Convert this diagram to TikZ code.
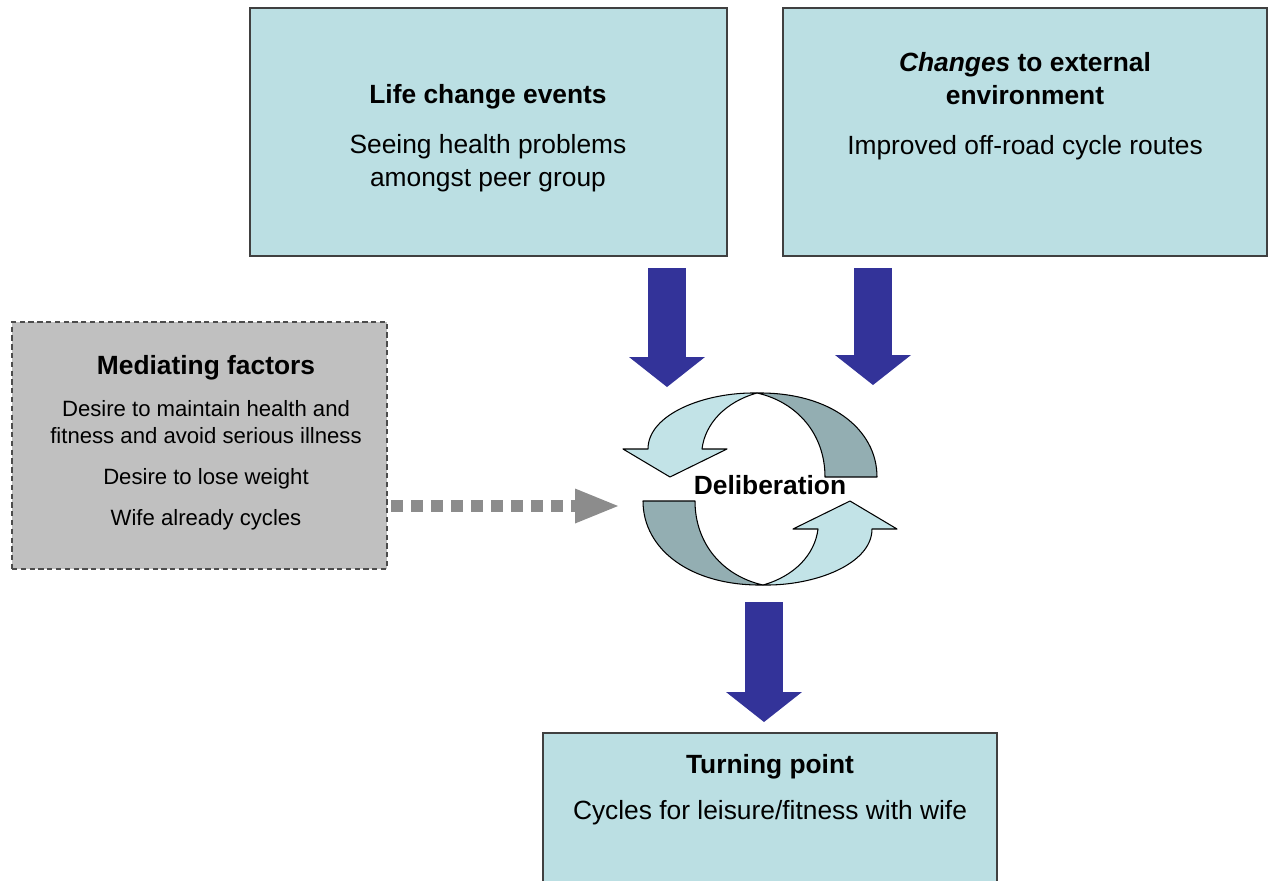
\documentclass[tikz,border=0pt]{standalone}
\usepackage{fontspec}
\setmainfont{Liberation Sans}
\usetikzlibrary{arrows.meta}
\definecolor{boxcyan}{HTML}{BBDFE3}
\definecolor{boxgray}{HTML}{C0C0C0}
\definecolor{arrowblue}{HTML}{333399}
\definecolor{cyclelight}{HTML}{C2E3E7}
\definecolor{cycledark}{HTML}{93AEB2}
\definecolor{dotgray}{HTML}{8C8C8C}

\begin{document}
\begin{tikzpicture}[x=0.02cm,y=-0.02cm,
  box/.style={draw=black!75,line width=1pt,fill=boxcyan,inner sep=0pt,minimum height=4.96cm},
  medbox/.style={draw=black!70,line width=0.8pt,dash pattern=on 3pt off 2pt,fill=boxgray,inner sep=0pt,
    minimum width=7.5cm,minimum height=4.94cm},
  txt/.style={align=center,inner sep=0pt,font=\fontsize{15}{18.8}\selectfont},
  smalltxt/.style={align=center,inner sep=0pt,font=\fontsize{12.6}{15.4}\selectfont},
  bluearrow/.style={arrowblue,line width=0.76cm,-{Triangle[width=1.52cm,length=0.6cm,line width=0pt]}},
  dotarrow/.style={dotgray,line width=0.24cm,dash pattern=on 0.24cm off 0.16cm,
    -{Triangle[width=0.7cm,length=0.86cm,line width=0pt]}},
  cycleline/.style={draw=black,line width=0.6pt,line join=round},
  halfcycle/.pic={
    \filldraw[cycleline,fill=cycledark] (-3,-96) .. controls (70,-97) and (117,-60) .. (117,-12)
      -- (65,-12) .. controls (65,-55) and (37,-87) .. (-3,-96) -- cycle;
    \filldraw[cycleline,fill=cyclelight] (-112,-40) -- (-137,-40) -- (-90,-12) -- (-33,-40) -- (-58,-40)
      .. controls (-55,-65) and (-35,-87) .. (-3,-96) .. controls (-55,-97) and (-112,-75) .. (-112,-40) -- cycle;
  }]
  \useasboundingbox (0,0) rectangle (1272,880);

  \node[box,minimum width=9.54cm] (life) at (488.5,132) {};
  \node[box,minimum width=9.68cm] (env) at (1025,132) {};
  \node[medbox] (med) at (199.5,445.5) {};
  \node[box,minimum width=9.08cm,minimum height=3.14cm] (turn) at (770,811.5) {};

  \node[txt] (life-t) at (488,138.5) {\textbf{Life change events}\\[9.7pt]
    Seeing health problems\\ amongst peer group};
  \node[txt] (env-t) at (1025,106) {\textbf{\textit{Changes} to external}\\ \textbf{environment}\\[10pt]
    Improved off-road cycle routes};
  \node[txt] (med-t) at (206,368) {\textbf{Mediating factors}};
  \node[smalltxt] (med-b) at (206,465) {Desire to maintain health and\\ fitness and avoid serious illness\\[8pt]
    Desire to lose weight\\[8pt] Wife already cycles};
  \node[txt] (turn-t) at (770,790) {\textbf{Turning point}\\[7.4pt] Cycles for leisure/fitness with wife};

  \foreach \r in {0,180}
    \pic[rotate=\r] at (760,489) {halfcycle};
  \node[txt] (delib) at (770,485) {\textbf{Deliberation}};

  \coordinate (a1-s) at (667,268);
  \coordinate (a1-e) at (667,387);
  \coordinate (a2-s) at (873,268);
  \coordinate (a2-e) at (873,385);
  \coordinate (a3-s) at (764,602);
  \coordinate (a3-e) at (764,722);
  \foreach \a in {a1,a2,a3}
    \draw[bluearrow] (\a-s) -- (\a-e);

  \coordinate (dot-s) at (391,506);
  \coordinate (dot-e) at (618,506);
  \draw[dotarrow] (dot-s) -- (dot-e);
\end{tikzpicture}
\end{document}
